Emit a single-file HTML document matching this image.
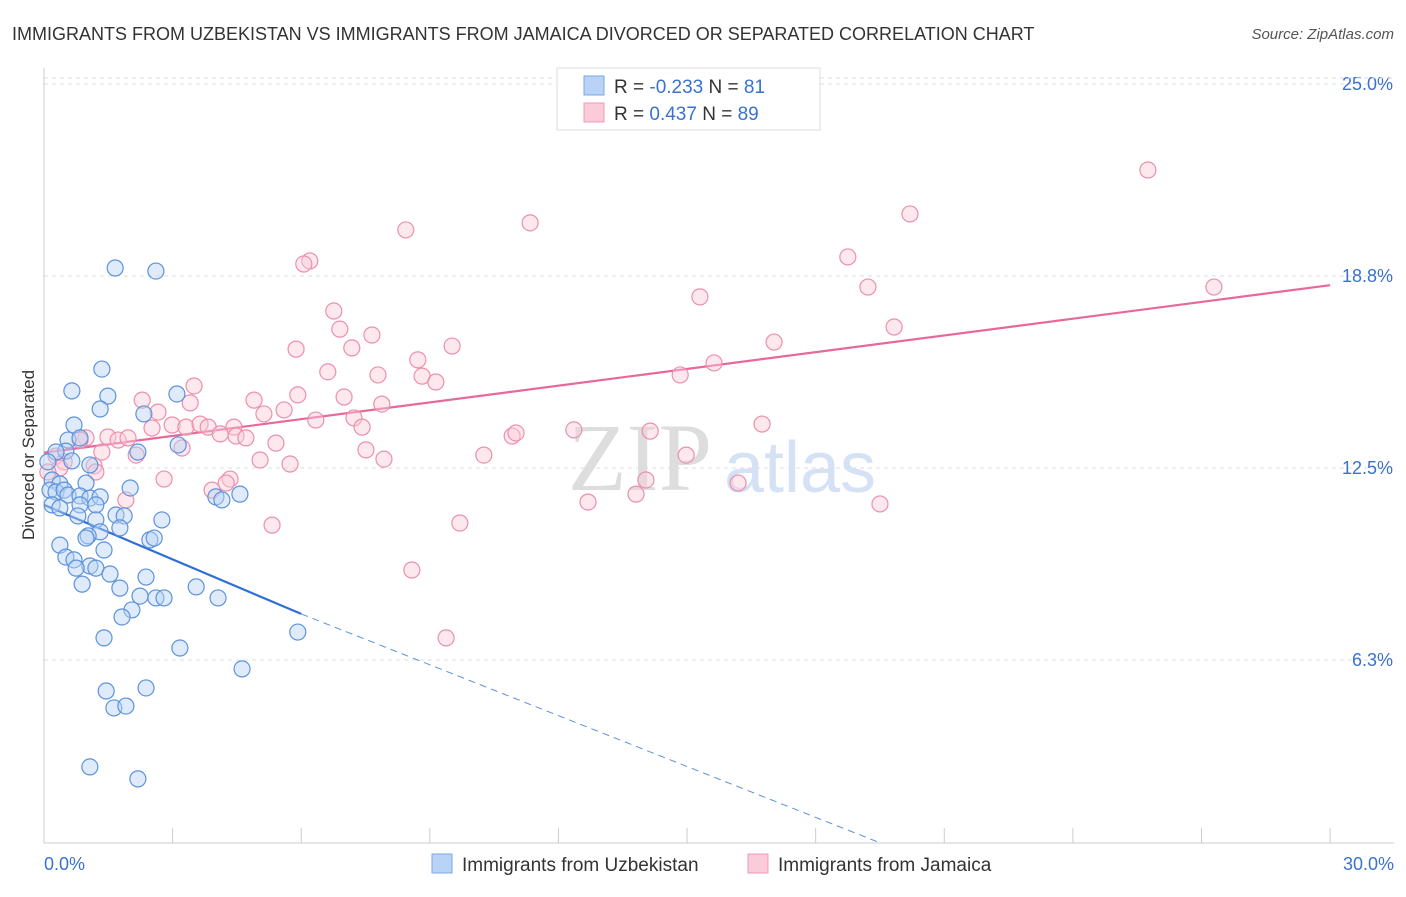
<!DOCTYPE html>
<html><head><meta charset="utf-8"><style>
body{margin:0;background:#fff;font-family:"Liberation Sans",sans-serif;}
</style></head><body>
<svg width="1406" height="892" xmlns="http://www.w3.org/2000/svg" font-family="Liberation Sans, sans-serif">
<text x="12" y="40" font-size="18" fill="#333">IMMIGRANTS FROM UZBEKISTAN VS IMMIGRANTS FROM JAMAICA DIVORCED OR SEPARATED CORRELATION CHART</text>
<text x="1394" y="39" font-size="15" fill="#555" font-style="italic" text-anchor="end">Source: ZipAtlas.com</text>
<text x="640" y="490" font-size="96" fill="#ddd" font-family="Liberation Serif, serif" text-anchor="middle">ZIP</text>
<text x="800" y="492" font-size="72" fill="#d5e2f5" text-anchor="middle">atlas</text>
<g id="grid"></g>
<g id="axes"></g>
<text transform="translate(34,455) rotate(-90)" font-size="17" fill="#333" text-anchor="middle">Divorced or Separated</text>
<text x="44" y="870" font-size="18" fill="#3a72d0">0.0%</text>
<text x="1394" y="870" font-size="18" fill="#3a72d0" text-anchor="end">30.0%</text>
<g id="lines"></g>
<g id="points"></g>
<g>
<rect x="557" y="68" width="263" height="62" fill="#fff" stroke="#ddd"/>
<rect x="584" y="76" width="20" height="19" fill="#b8d3f5" stroke="#7aa7e6"/>
<rect x="584" y="103" width="20" height="19" fill="#fbcbd9" stroke="#f09ab4"/>
<text x="614" y="93" font-size="19" fill="#333">R = <tspan fill="#3a72d0">-0.233</tspan>   N = <tspan fill="#3a72d0">81</tspan></text>
<text x="614" y="120" font-size="19" fill="#333">R =  <tspan fill="#3a72d0">0.437</tspan>   N = <tspan fill="#3a72d0">89</tspan></text>
</g>
<g>
<rect x="432" y="854" width="20" height="19" fill="#b8d3f5" stroke="#7aa7e6"/>
<text x="462" y="871" font-size="19" fill="#333">Immigrants from Uzbekistan</text>
<rect x="748" y="854" width="20" height="19" fill="#fbcbd9" stroke="#f09ab4"/>
<text x="778" y="871" font-size="19" fill="#333">Immigrants from Jamaica</text>
</g>
</svg>
<script>
const yTicks=[25,18.75,12.5,6.25];
const yTickLabels=["25.0%","18.8%","12.5%","6.3%"];
const xTicks=[0,3,6,9,12,15,18,21,24,27,30];
const bluePx=[[115,268],[156,271],[102,369],[72,391],[108,396],[177,394],[100,409],[144,414],[74,425],[68,440],[80,438],[178,445],[66,451],[138,452],[56,452],[48,462],[72,461],[90,465],[52,480],[60,484],[50,490],[56,492],[64,490],[86,483],[130,488],[68,495],[80,496],[90,498],[100,497],[216,497],[222,500],[240,494],[52,505],[60,508],[80,505],[96,505],[78,516],[96,520],[116,515],[124,516],[162,520],[120,528],[100,532],[88,536],[86,538],[150,540],[154,538],[60,545],[104,550],[66,557],[74,560],[90,566],[76,568],[96,568],[110,574],[146,577],[82,584],[196,587],[120,588],[140,596],[156,598],[164,598],[218,598],[132,610],[122,617],[104,638],[298,632],[180,648],[242,669],[106,691],[146,688],[114,708],[126,706],[90,767],[138,779]];
const pinkPx=[[1148,170],[910,214],[530,223],[406,230],[310,261],[304,264],[848,257],[868,287],[1214,287],[700,297],[334,311],[340,329],[372,335],[894,327],[296,349],[352,348],[452,346],[774,342],[418,360],[714,363],[328,372],[378,375],[422,376],[436,382],[680,375],[194,386],[298,395],[344,397],[254,400],[142,400],[190,403],[382,404],[284,410],[264,414],[158,412],[316,420],[354,418],[172,425],[186,427],[200,424],[208,427],[234,427],[236,436],[246,438],[362,427],[220,434],[152,428],[108,437],[118,440],[128,438],[86,438],[80,440],[512,436],[516,433],[574,430],[650,431],[762,424],[276,443],[366,450],[182,448],[102,452],[136,455],[56,456],[260,460],[290,464],[384,459],[484,455],[686,455],[64,462],[60,468],[48,472],[94,466],[96,472],[164,479],[230,479],[226,483],[212,490],[646,480],[738,483],[126,500],[588,502],[636,494],[880,504],[272,525],[460,523],[412,570],[446,638]];
// convert readings to data values (x in %, y in %)
const blueX=bluePx.map(p=>+((p[0]-44)/42.87).toFixed(2));
const blueY=bluePx.map(p=>+((852-p[1])/30.72).toFixed(2));
const pinkX=pinkPx.map(p=>+((p[0]-44)/42.87).toFixed(2));
const pinkY=pinkPx.map(p=>+((852-p[1])/30.72).toFixed(2));
const blueTrend=[[0,11.3],[6,7.75],[19.5,0.3]];
const pinkTrend=[[0,13.0],[30,18.45]];
const X=v=>44+v*42.87, Y=v=>852-v*30.72;
const NS="http://www.w3.org/2000/svg";
function mk(t,a,parent){const e=document.createElementNS(NS,t);for(const k in a)e.setAttribute(k,a[k]);document.getElementById(parent).appendChild(e);return e;}
yTicks.forEach((v,i)=>{
 const l=mk('line',{x1:44,x2:1394,y1:Y(v),y2:Y(v),stroke:'#ddd','stroke-dasharray':'4,4'},'grid');
 
 
 const t=mk('text',{x:1393,y:Y(v)+6,'font-size':18,fill:'#3a72d0','text-anchor':'end'},'grid');
 t.textContent=yTickLabels[i];
 
 
});
const tl=mk('line',{x1:44,x2:1394,y1:78,y2:78,stroke:'#ddd','stroke-dasharray':'4,4'},'grid');


const ya=mk('line',{x1:44,x2:44,y1:68,y2:843,stroke:'#ccc'},'axes');


const xa=mk('line',{x1:44,x2:1394,y1:843,y2:843,stroke:'#ccc'},'axes');


xTicks.forEach(v=>{const t=mk('line',{x1:X(v),x2:X(v),y1:828,y2:843,stroke:'#ccc'},'axes');
 
 });
function pts(xs,ys,fill,stroke,name){xs.forEach((x,i)=>{const c=mk('circle',{cx:X(x),cy:Y(ys[i]),r:8,fill:fill,'fill-opacity':0.45,stroke:stroke,'stroke-width':1.2},'points');
 
 });}
pts(pinkX,pinkY,'#fbcbd9','#ec8fad','jamaica-point');
pts(blueX,blueY,'#b8d3f5','#5c92dc','uzbekistan-point');
const b1=mk('line',{x1:X(blueTrend[0][0]),y1:Y(blueTrend[0][1]),x2:X(blueTrend[1][0]),y2:Y(blueTrend[1][1]),stroke:'#2e6fd6','stroke-width':2.2},'lines');


const b2=mk('line',{x1:X(blueTrend[1][0]),y1:Y(blueTrend[1][1]),x2:X(blueTrend[2][0]),y2:Y(blueTrend[2][1]),stroke:'#5c92dc','stroke-width':1,'stroke-dasharray':'7,5'},'lines');


const p1=mk('line',{x1:X(pinkTrend[0][0]),y1:Y(pinkTrend[0][1]),x2:X(pinkTrend[1][0]),y2:Y(pinkTrend[1][1]),stroke:'#e8689a','stroke-width':2.2},'lines');


</script>
</body></html>
